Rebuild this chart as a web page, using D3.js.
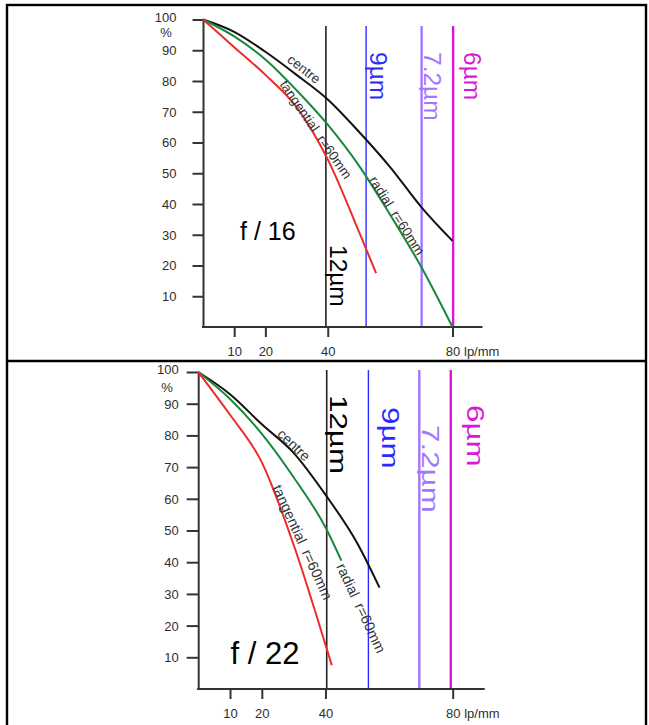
<!DOCTYPE html>
<html>
<head>
<meta charset="utf-8">
<script src="https://cdn.jsdelivr.net/npm/d3@7"></script>
<style>
  body { margin: 0; background: #fff; }
  svg { display: block; }
</style>
</head>
<body>
<script>
// MTF (%) against spatial frequency (lp/mm), f/16
const freqF16      = [0, 10, 20, 30, 40, 50, 60, 70, 80];
const centreF16    = [100, 96, 89.5, 82, 74, 63.5, 52, 39, 28];
const radialF16    = [100, 94.5, 87, 77, 65.8, 52.5, 36.5, 19.5, 0];
const tangFreqF16  = [0, 10, 20, 30, 40, 50, 55.5];
const tangF16      = [100, 91, 82, 71.5, 54.5, 31, 17.5];

// MTF (%) against spatial frequency (lp/mm), f/22
const centreFreqF22 = [0, 10, 20, 30, 40, 50, 57];
const centreF22     = [100, 93, 83.5, 74.5, 61.3, 46, 32];
const radialFreqF22 = [0, 10, 20, 30, 40, 45];
const radialF22     = [100, 91.5, 80.5, 66.8, 51, 40.5];
const tangFreqF22   = [0, 10, 20, 30, 40, 42];
const tangF22       = [100, 86.5, 71.5, 45.5, 14, 7.5];

// sensor pixel pitch limits (lp/mm)
const pitchLabels = ["12µm", "9µm", "7.2µm", "6µm"];
const limitF16    = [39.4, 52.3, 70.1, 80.2];
const limitF22    = [40.4, 53.5, 69.5, 79.4];

// axis ticks
const yTicks = [10, 20, 30, 40, 50, 60, 70, 80, 90, 100];
const xTicks = [10, 20, 40, 80];
const apertures = ["f / 16", "f / 22"];

const W = 649, H = 725;
const FONT = "'Liberation Sans', Arial, Helvetica, sans-serif";
const TICK_COLOR = "#2e2e2e";
const pitchColors = ["#222222", "#2b2bff", "#a277ff", "#d916d9"];
const pitchWidths = [1.6, 1.4, 2.4, 2.4];

const svg = d3.select("body").append("svg")
  .attr("width", W).attr("height", H)
  .style("font-family", FONT);

// outer frame and divider
svg.append("rect").attr("x", 7).attr("y", 5).attr("width", 639).attr("height", 800)
  .attr("fill", "none").attr("stroke", "#000").attr("stroke-width", 2.4);
svg.append("line").attr("x1", 7).attr("x2", 646).attr("y1", 361).attr("y2", 361)
  .attr("stroke", "#000").attr("stroke-width", 2.4);

const panels = [
  {
    xRange: [203, 452.5], yRange: [327, 19.5], axisExt: 30,
    yTickPad: 16, yTickSize: 10.5, pctPos: [166, 37],
    vTop: 26, limits: limitF16, stretch: 1,
    pitchDx: [4, 4, 2.5, 10.7], pitchY: [245, 52, 52, 52], pitchFs: 24.5,
    series: [
      { f: freqF16, v: centreF16, color: "#111111" },
      { f: freqF16, v: radialF16, color: "#17893c" },
      { f: tangFreqF16, v: tangF16, color: "#ee2b2b" }
    ],
    labels: [
      { t: "centre", f: 32.4, v: 83.9, a: 38, fs: 13.5 },
      { t: "tangential  r=60mm", f: 36.2, v: 64.2, a: 55.5, fs: 13.5 },
      { t: "radial  r=60mm", f: 62.2, v: 36.2, a: 57.5, fs: 13.5 }
    ],
    aperture: { text: apertures[0], x: 240, y: 240, fs: 25 }
  },
  {
    xRange: [198.2, 452.7], yRange: [689, 372], axisExt: 32,
    yTickPad: 8, yTickSize: 11.5, pctPos: [167, 392],
    vTop: 370, limits: limitF22, stretch: 1.28,
    pitchDx: [3.5, 13.7, 3, 16], pitchY: [395, 407, 425, 405], pitchFs: 24.5,
    series: [
      { f: centreFreqF22, v: centreF22, color: "#111111" },
      { f: radialFreqF22, v: radialF22, color: "#17893c" },
      { f: tangFreqF22, v: tangF22, color: "#ee2b2b" }
    ],
    labels: [
      { t: "centre", f: 30.1, v: 77, a: 44, fs: 14 },
      { t: "tangential  r=60mm", f: 32.8, v: 46.3, a: 65.5, fs: 14.5 },
      { t: "radial  r=60mm", f: 51.2, v: 25.5, a: 65, fs: 14.5 }
    ],
    aperture: { text: apertures[1], x: 230.5, y: 664, fs: 31 }
  }
];

panels.forEach(p => {
  const x = d3.scaleLinear().domain([0, 80]).range(p.xRange);
  const y = d3.scaleLinear().domain([0, 100]).range(p.yRange);
  const g = svg.append("g");

  // pixel-pitch limit lines
  p.limits.forEach((lim, i) => {
    g.append("line")
      .attr("x1", x(lim)).attr("x2", x(lim))
      .attr("y1", p.vTop).attr("y2", y(0))
      .attr("stroke", pitchColors[i]).attr("stroke-width", pitchWidths[i]);
  });

  // y axis
  const yAxis = d3.axisLeft(y).tickValues(yTicks)
    .tickSize(p.yTickSize).tickSizeOuter(0).tickPadding(p.yTickPad);
  const ya = g.append("g").attr("transform", `translate(${x(0)},0)`).call(yAxis);
  ya.select(".domain").attr("stroke", "#333").attr("stroke-width", 2);
  ya.selectAll(".tick line").attr("stroke", "#333").attr("stroke-width", 2);
  ya.selectAll(".tick text").attr("fill", TICK_COLOR).style("font-size", "13px")
    .style("font-family", FONT)
    .attr("dy", d => d === 100 ? "0.12em" : "0.34em");
  g.append("text").attr("x", p.pctPos[0]).attr("y", p.pctPos[1])
    .attr("text-anchor", "middle").attr("fill", TICK_COLOR)
    .style("font-size", "13px").text("%");

  // x axis
  const xAxis = d3.axisBottom(x).tickValues(xTicks)
    .tickSize(10).tickSizeOuter(0).tickPadding(9.5);
  const xa = g.append("g").attr("transform", `translate(0,${y(0)})`).call(xAxis);
  xa.select(".domain").remove();
  xa.selectAll(".tick line").attr("stroke", "#333").attr("stroke-width", 2);
  xa.selectAll(".tick text").attr("fill", TICK_COLOR).style("font-size", "13px")
    .style("font-family", FONT);
  g.append("line")
    .attr("x1", x(0) - 1).attr("x2", x(80) + p.axisExt)
    .attr("y1", y(0)).attr("y2", y(0))
    .attr("stroke", "#333").attr("stroke-width", 2);
  g.append("text")
    .attr("x", x(80) + 11.5).attr("y", y(0) + 19.5).attr("dy", "0.71em")
    .attr("fill", TICK_COLOR).style("font-size", "13px").text("lp/mm");

  // MTF curves
  const line = d3.line().curve(d3.curveMonotoneX)
    .x(d => x(d[0])).y(d => y(d[1]));
  p.series.forEach(s => {
    g.append("path")
      .datum(s.f.map((f, i) => [f, s.v[i]]))
      .attr("d", line)
      .attr("fill", "none").attr("stroke", s.color)
      .attr("stroke-width", 2).attr("stroke-linejoin", "round");
  });

  // curve labels
  p.labels.forEach(l => {
    g.append("text")
      .attr("transform", `translate(${x(l.f)},${y(l.v)}) rotate(${l.a})`)
      .attr("text-anchor", "middle").attr("dy", "0.35em")
      .attr("fill", "#333").style("font-size", l.fs + "px")
      .style("white-space", "pre")
      .text(l.t);
  });

  // pixel-pitch labels, reading downwards
  p.limits.forEach((lim, i) => {
    g.append("text")
      .attr("transform",
        `translate(${x(lim) + p.pitchDx[i]},${p.pitchY[i]}) rotate(90) scale(${p.stretch},1)`)
      .attr("fill", pitchColors[i] === "#222222" ? "#000" : pitchColors[i])
      .style("font-size", p.pitchFs + "px")
      .text(pitchLabels[i]);
  });

  // aperture label
  g.append("text").attr("x", p.aperture.x).attr("y", p.aperture.y)
    .attr("fill", "#000").style("font-size", p.aperture.fs + "px")
    .style("white-space", "pre")
    .text(p.aperture.text);
});
</script>
</body>
</html>
